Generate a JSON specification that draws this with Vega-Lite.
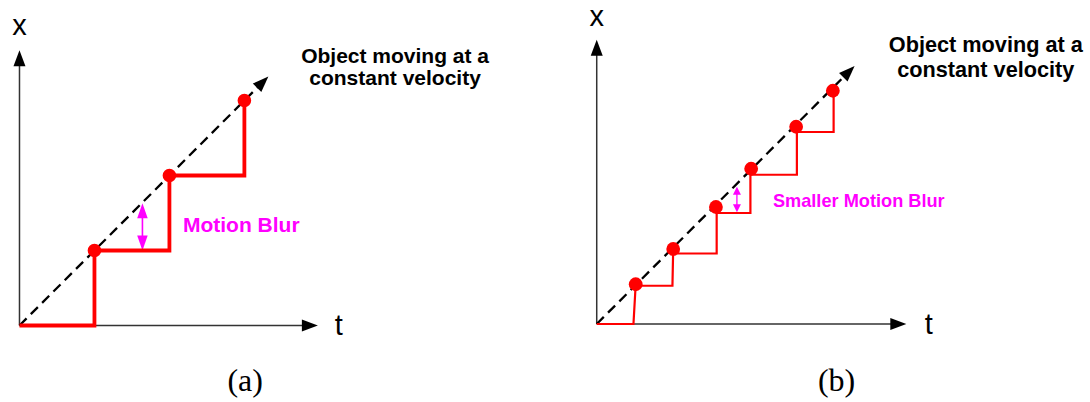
{
  "$schema": "https://vega.github.io/schema/vega-lite/v6.json",
  "background": "white",
  "padding": 0,
  "spacing": 0,
  "config": {"view": {"stroke": null}, "concat": {"spacing": 0}},
  "datasets": {
    "steps": [
      {"panel": "a", "seq": 0, "t": 0, "x": 0},
      {"panel": "a", "seq": 1, "t": 1, "x": 0},
      {"panel": "a", "seq": 2, "t": 1, "x": 1},
      {"panel": "a", "seq": 3, "t": 2, "x": 1},
      {"panel": "a", "seq": 4, "t": 2, "x": 2},
      {"panel": "a", "seq": 5, "t": 3, "x": 2},
      {"panel": "a", "seq": 6, "t": 3, "x": 3},
      {"panel": "b", "seq": 0, "t": 0, "x": 0},
      {"panel": "b", "seq": 1, "t": 0.49, "x": 0},
      {"panel": "b", "seq": 2, "t": 0.52, "x": 0.53},
      {"panel": "b", "seq": 3, "t": 0.52, "x": 0.51},
      {"panel": "b", "seq": 4, "t": 1.01, "x": 0.51},
      {"panel": "b", "seq": 5, "t": 1.02, "x": 1.0},
      {"panel": "b", "seq": 6, "t": 1.02, "x": 0.94},
      {"panel": "b", "seq": 7, "t": 1.6, "x": 0.94},
      {"panel": "b", "seq": 8, "t": 1.6, "x": 1.56},
      {"panel": "b", "seq": 9, "t": 1.6, "x": 1.48},
      {"panel": "b", "seq": 10, "t": 2.05, "x": 1.48},
      {"panel": "b", "seq": 11, "t": 2.05, "x": 2.07},
      {"panel": "b", "seq": 12, "t": 2.05, "x": 1.99},
      {"panel": "b", "seq": 13, "t": 2.67, "x": 1.99},
      {"panel": "b", "seq": 14, "t": 2.67, "x": 2.63},
      {"panel": "b", "seq": 15, "t": 2.67, "x": 2.56},
      {"panel": "b", "seq": 16, "t": 3.16, "x": 2.56},
      {"panel": "b", "seq": 17, "t": 3.16, "x": 3.11}
    ],
    "samples": [
      {"panel": "a", "t": 1, "x": 1},
      {"panel": "a", "t": 2, "x": 2},
      {"panel": "a", "t": 3, "x": 3},
      {"panel": "b", "t": 0.52, "x": 0.53},
      {"panel": "b", "t": 1.02, "x": 1.0},
      {"panel": "b", "t": 1.59, "x": 1.56},
      {"panel": "b", "t": 2.06, "x": 2.07},
      {"panel": "b", "t": 2.66, "x": 2.63},
      {"panel": "b", "t": 3.15, "x": 3.11}
    ],
    "guides": [
      {"panel": "a", "kind": "axis", "t": 0, "x": 0, "t_end": 3.9, "x_end": 0},
      {"panel": "a", "kind": "axis", "t": 0, "x": 0, "t_end": 0, "x_end": 3.6},
      {"panel": "a", "kind": "path", "t": 0, "x": 0, "t_end": 3.22, "x_end": 3.22},
      {"panel": "a", "kind": "blur", "t": 1.64, "x": 1.06, "t_end": 1.64, "x_end": 1.58},
      {"panel": "b", "kind": "axis", "t": 0, "x": 0, "t_end": 4.05, "x_end": 0},
      {"panel": "b", "kind": "axis", "t": 0, "x": 0, "t_end": 0, "x_end": 3.71},
      {"panel": "b", "kind": "path", "t": 0, "x": 0, "t_end": 3.34, "x_end": 3.34},
      {"panel": "b", "kind": "blur", "t": 1.87, "x": 1.52, "t_end": 1.87, "x_end": 1.8}
    ],
    "heads": [
      {"panel": "a", "dir": "right", "t": 3.98, "x": 0},
      {"panel": "a", "dir": "up", "t": 0, "x": 3.67},
      {"panel": "a", "dir": "diag", "t": 3.32, "x": 3.32},
      {"panel": "a", "dir": "blur_up", "t": 1.64, "x": 1.63},
      {"panel": "a", "dir": "blur_down", "t": 1.64, "x": 1.0},
      {"panel": "b", "dir": "right", "t": 4.13, "x": 0},
      {"panel": "b", "dir": "up", "t": 0, "x": 3.79},
      {"panel": "b", "dir": "diag", "t": 3.44, "x": 3.44},
      {"panel": "b", "dir": "blur_up", "t": 1.87, "x": 1.83},
      {"panel": "b", "dir": "blur_down", "t": 1.87, "x": 1.49}
    ],
    "labels": [
      {"panel": "a", "kind": "axis", "label": "x", "t": 0, "x": 3.88},
      {"panel": "a", "kind": "axis", "label": "t", "t": 4.26, "x": -0.13},
      {"panel": "a", "kind": "title", "label": "Object moving at a", "t": 5.01, "x": 3.5},
      {"panel": "a", "kind": "title", "label": "constant velocity", "t": 5.01, "x": 3.21},
      {"panel": "a", "kind": "blur", "label": "Motion Blur", "t": 2.18, "x": 1.25},
      {"panel": "a", "kind": "caption", "label": "(a)", "t": 3.01, "x": -0.87},
      {"panel": "b", "kind": "axis", "label": "x", "t": 0, "x": 3.98},
      {"panel": "b", "kind": "axis", "label": "t", "t": 4.43, "x": -0.13},
      {"panel": "b", "kind": "title", "label": "Object moving at a", "t": 5.19, "x": 3.63},
      {"panel": "b", "kind": "title", "label": "constant velocity", "t": 5.19, "x": 3.29},
      {"panel": "b", "kind": "blur", "label": "Smaller Motion Blur", "t": 2.35, "x": 1.56},
      {"panel": "b", "kind": "caption", "label": "(b)", "t": 3.2, "x": -0.89}
    ]
  },
  "hconcat": [
    {
      "width": 545,
      "height": 402,
      "encoding": {
        "x": {"field": "t", "type": "quantitative", "scale": {"domain": [-0.26, 7.01], "nice": false, "zero": false}, "axis": null},
        "y": {"field": "x", "type": "quantitative", "scale": {"domain": [-1.02, 4.34], "nice": false, "zero": false}, "axis": null}
      },
      "layer": [
        {"data": {"name": "guides"}, "transform": [{"filter": "datum.panel === 'a' && datum.kind === 'axis'"}],
         "mark": {"type": "rule", "stroke": "#333333", "strokeWidth": 1.5},
         "encoding": {"x2": {"field": "t_end"}, "y2": {"field": "x_end"}}},
        {"data": {"name": "guides"}, "transform": [{"filter": "datum.panel === 'a' && datum.kind === 'path'"}],
         "mark": {"type": "rule", "stroke": "#000000", "strokeWidth": 2.3, "strokeDash": [10, 6]},
         "encoding": {"x2": {"field": "t_end"}, "y2": {"field": "x_end"}}},
        {"data": {"name": "guides"}, "transform": [{"filter": "datum.panel === 'a' && datum.kind === 'blur'"}],
         "mark": {"type": "rule", "stroke": "#ff00ff", "strokeWidth": 1.6},
         "encoding": {"x2": {"field": "t_end"}, "y2": {"field": "x_end"}}},
        {"data": {"name": "heads"}, "transform": [{"filter": "datum.panel === 'a' && datum.dir === 'right'"}],
         "mark": {"type": "point", "shape": "M0,0L-2,-0.75L-2,0.75Z", "filled": true, "color": "#000000", "opacity": 1, "size": 256, "angle": 0}},
        {"data": {"name": "heads"}, "transform": [{"filter": "datum.panel === 'a' && datum.dir === 'up'"}],
         "mark": {"type": "point", "shape": "M0,0L-2,-0.75L-2,0.75Z", "filled": true, "color": "#000000", "opacity": 1, "size": 256, "angle": 270}},
        {"data": {"name": "heads"}, "transform": [{"filter": "datum.panel === 'a' && datum.dir === 'diag'"}],
         "mark": {"type": "point", "shape": "M0,0L-2,-0.75L-2,0.75Z", "filled": true, "color": "#000000", "opacity": 1, "size": 256, "angle": 315}},
        {"data": {"name": "heads"}, "transform": [{"filter": "datum.panel === 'a' && datum.dir === 'blur_up'"}],
         "mark": {"type": "point", "shape": "M0,0L-2,-0.7L-2,0.7Z", "filled": true, "color": "#ff00ff", "opacity": 1, "size": 225, "angle": 270}},
        {"data": {"name": "heads"}, "transform": [{"filter": "datum.panel === 'a' && datum.dir === 'blur_down'"}],
         "mark": {"type": "point", "shape": "M0,0L-2,-0.7L-2,0.7Z", "filled": true, "color": "#ff00ff", "opacity": 1, "size": 225, "angle": 90}},
        {"data": {"name": "steps"}, "transform": [{"filter": "datum.panel === 'a'"}],
         "mark": {"type": "line", "color": "#ff0000", "strokeWidth": 3.8, "strokeJoin": "miter", "strokeCap": "butt"},
         "encoding": {"order": {"field": "seq", "type": "quantitative"}}},
        {"data": {"name": "samples"}, "transform": [{"filter": "datum.panel === 'a'"}],
         "mark": {"type": "circle", "color": "#ff0000", "opacity": 1, "size": 185}},
        {"data": {"name": "labels"}, "transform": [{"filter": "datum.panel === 'a' && datum.kind === 'axis'"}],
         "mark": {"type": "text", "font": "Liberation Sans", "fontSize": 29, "align": "center", "baseline": "alphabetic", "color": "#000000"},
         "encoding": {"text": {"field": "label"}}},
        {"data": {"name": "labels"}, "transform": [{"filter": "datum.panel === 'a' && datum.kind === 'title'"}],
         "mark": {"type": "text", "font": "Liberation Sans", "fontWeight": "bold", "fontSize": 21, "align": "center", "baseline": "alphabetic", "color": "#000000"},
         "encoding": {"text": {"field": "label"}}},
        {"data": {"name": "labels"}, "transform": [{"filter": "datum.panel === 'a' && datum.kind === 'blur'"}],
         "mark": {"type": "text", "font": "Liberation Sans", "fontWeight": "bold", "fontSize": 21, "align": "left", "baseline": "alphabetic", "color": "#ff00ff"},
         "encoding": {"text": {"field": "label"}}},
        {"data": {"name": "labels"}, "transform": [{"filter": "datum.panel === 'a' && datum.kind === 'caption'"}],
         "mark": {"type": "text", "font": "Liberation Serif", "fontSize": 32, "align": "center", "baseline": "alphabetic", "color": "#000000"},
         "encoding": {"text": {"field": "label"}}}
      ]
    },
    {
      "width": 545,
      "height": 402,
      "encoding": {
        "x": {"field": "t", "type": "quantitative", "scale": {"domain": [-0.69, 6.58], "nice": false, "zero": false}, "axis": null},
        "y": {"field": "x", "type": "quantitative", "scale": {"domain": [-1.04, 4.32], "nice": false, "zero": false}, "axis": null}
      },
      "layer": [
        {"data": {"name": "guides"}, "transform": [{"filter": "datum.panel === 'b' && datum.kind === 'axis'"}],
         "mark": {"type": "rule", "stroke": "#333333", "strokeWidth": 1.5},
         "encoding": {"x2": {"field": "t_end"}, "y2": {"field": "x_end"}}},
        {"data": {"name": "guides"}, "transform": [{"filter": "datum.panel === 'b' && datum.kind === 'path'"}],
         "mark": {"type": "rule", "stroke": "#000000", "strokeWidth": 2.3, "strokeDash": [10, 6]},
         "encoding": {"x2": {"field": "t_end"}, "y2": {"field": "x_end"}}},
        {"data": {"name": "guides"}, "transform": [{"filter": "datum.panel === 'b' && datum.kind === 'blur'"}],
         "mark": {"type": "rule", "stroke": "#ff00ff", "strokeWidth": 1.3},
         "encoding": {"x2": {"field": "t_end"}, "y2": {"field": "x_end"}}},
        {"data": {"name": "heads"}, "transform": [{"filter": "datum.panel === 'b' && datum.dir === 'right'"}],
         "mark": {"type": "point", "shape": "M0,0L-2,-0.75L-2,0.75Z", "filled": true, "color": "#000000", "opacity": 1, "size": 256, "angle": 0}},
        {"data": {"name": "heads"}, "transform": [{"filter": "datum.panel === 'b' && datum.dir === 'up'"}],
         "mark": {"type": "point", "shape": "M0,0L-2,-0.75L-2,0.75Z", "filled": true, "color": "#000000", "opacity": 1, "size": 256, "angle": 270}},
        {"data": {"name": "heads"}, "transform": [{"filter": "datum.panel === 'b' && datum.dir === 'diag'"}],
         "mark": {"type": "point", "shape": "M0,0L-2,-0.75L-2,0.75Z", "filled": true, "color": "#000000", "opacity": 1, "size": 256, "angle": 315}},
        {"data": {"name": "heads"}, "transform": [{"filter": "datum.panel === 'b' && datum.dir === 'blur_up'"}],
         "mark": {"type": "point", "shape": "M0,0L-2,-1L-2,1Z", "filled": true, "color": "#ff00ff", "opacity": 1, "size": 64, "angle": 270}},
        {"data": {"name": "heads"}, "transform": [{"filter": "datum.panel === 'b' && datum.dir === 'blur_down'"}],
         "mark": {"type": "point", "shape": "M0,0L-2,-1L-2,1Z", "filled": true, "color": "#ff00ff", "opacity": 1, "size": 64, "angle": 90}},
        {"data": {"name": "steps"}, "transform": [{"filter": "datum.panel === 'b'"}],
         "mark": {"type": "line", "color": "#ff0000", "strokeWidth": 2.2, "strokeJoin": "miter", "strokeCap": "butt"},
         "encoding": {"order": {"field": "seq", "type": "quantitative"}}},
        {"data": {"name": "samples"}, "transform": [{"filter": "datum.panel === 'b'"}],
         "mark": {"type": "circle", "color": "#ff0000", "opacity": 1, "size": 190}},
        {"data": {"name": "labels"}, "transform": [{"filter": "datum.panel === 'b' && datum.kind === 'axis'"}],
         "mark": {"type": "text", "font": "Liberation Sans", "fontSize": 29, "align": "center", "baseline": "alphabetic", "color": "#000000"},
         "encoding": {"text": {"field": "label"}}},
        {"data": {"name": "labels"}, "transform": [{"filter": "datum.panel === 'b' && datum.kind === 'title'"}],
         "mark": {"type": "text", "font": "Liberation Sans", "fontWeight": "bold", "fontSize": 21.7, "align": "center", "baseline": "alphabetic", "color": "#000000"},
         "encoding": {"text": {"field": "label"}}},
        {"data": {"name": "labels"}, "transform": [{"filter": "datum.panel === 'b' && datum.kind === 'blur'"}],
         "mark": {"type": "text", "font": "Liberation Sans", "fontWeight": "bold", "fontSize": 18.2, "align": "left", "baseline": "alphabetic", "color": "#ff00ff"},
         "encoding": {"text": {"field": "label"}}},
        {"data": {"name": "labels"}, "transform": [{"filter": "datum.panel === 'b' && datum.kind === 'caption'"}],
         "mark": {"type": "text", "font": "Liberation Serif", "fontSize": 32, "align": "center", "baseline": "alphabetic", "color": "#000000"},
         "encoding": {"text": {"field": "label"}}}
      ]
    }
  ]
}
